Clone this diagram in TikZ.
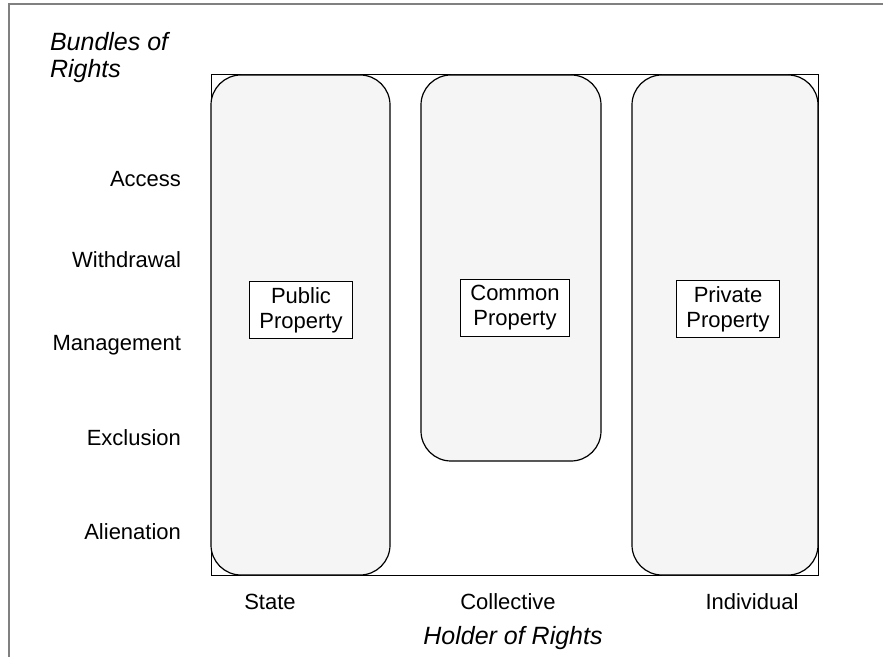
\documentclass[tikz,border=0pt]{standalone}
\usepackage{fontspec}
\setmainfont{Liberation Sans}

\begin{document}
\begin{tikzpicture}[x=0.5pt, y=-0.5pt,
        every node/.style={font=\fontsize{11}{12.5}\selectfont},
        column/.style={draw, line width=0.6pt, rounded corners=15pt, fill=black!4},
        kind/.style={draw, fill=white, line width=0.6pt, align=center, inner xsep=5pt, inner ysep=3pt},
        bundle/.style={anchor=east},
        holder/.style={anchor=center},
        axis/.style={font=\fontsize{12.5}{13.5}\selectfont\itshape}]
    \useasboundingbox (0,0) rectangle (883,657);
    % frame and plot area
    \draw [gray, line width=0.8pt] (9,657) -- (9,4) -- (883,4);
    \draw [line width=0.5pt] (211,75) rectangle (818,575);
    % the three regimes
    \draw [column] (211,75) rectangle (390,575);
    \draw [column] (421,75) rectangle (601,461);
    \draw [column] (632,75) rectangle (818,575);
    \node [kind] (public) at (301,310) {Public\\Property};
    \node [kind] (common) at (515,308) {Common\\Property};
    \node [kind] (private) at (728,309) {Private\\Property};
    % bundles of rights
    \node [axis, anchor=west, align=left] (bundles) at (43,58) {Bundles of\\Rights};
    \node [bundle] (access) at (188,179) {Access};
    \node [bundle] (withdrawal) at (188,260) {Withdrawal};
    \node [bundle] (management) at (188,345) {Management};
    \node [bundle] (exclusion) at (188,438) {Exclusion};
    \node [bundle] (alienation) at (188,532) {Alienation};
    % holders
    \node [holder] (state) at (270,602) {State};
    \node [holder] (collective) at (508,602) {Collective};
    \node [holder] (individual) at (752,602) {Individual};
    \node [axis] (holders) at (513,638) {Holder of Rights};
\end{tikzpicture}
\end{document}
